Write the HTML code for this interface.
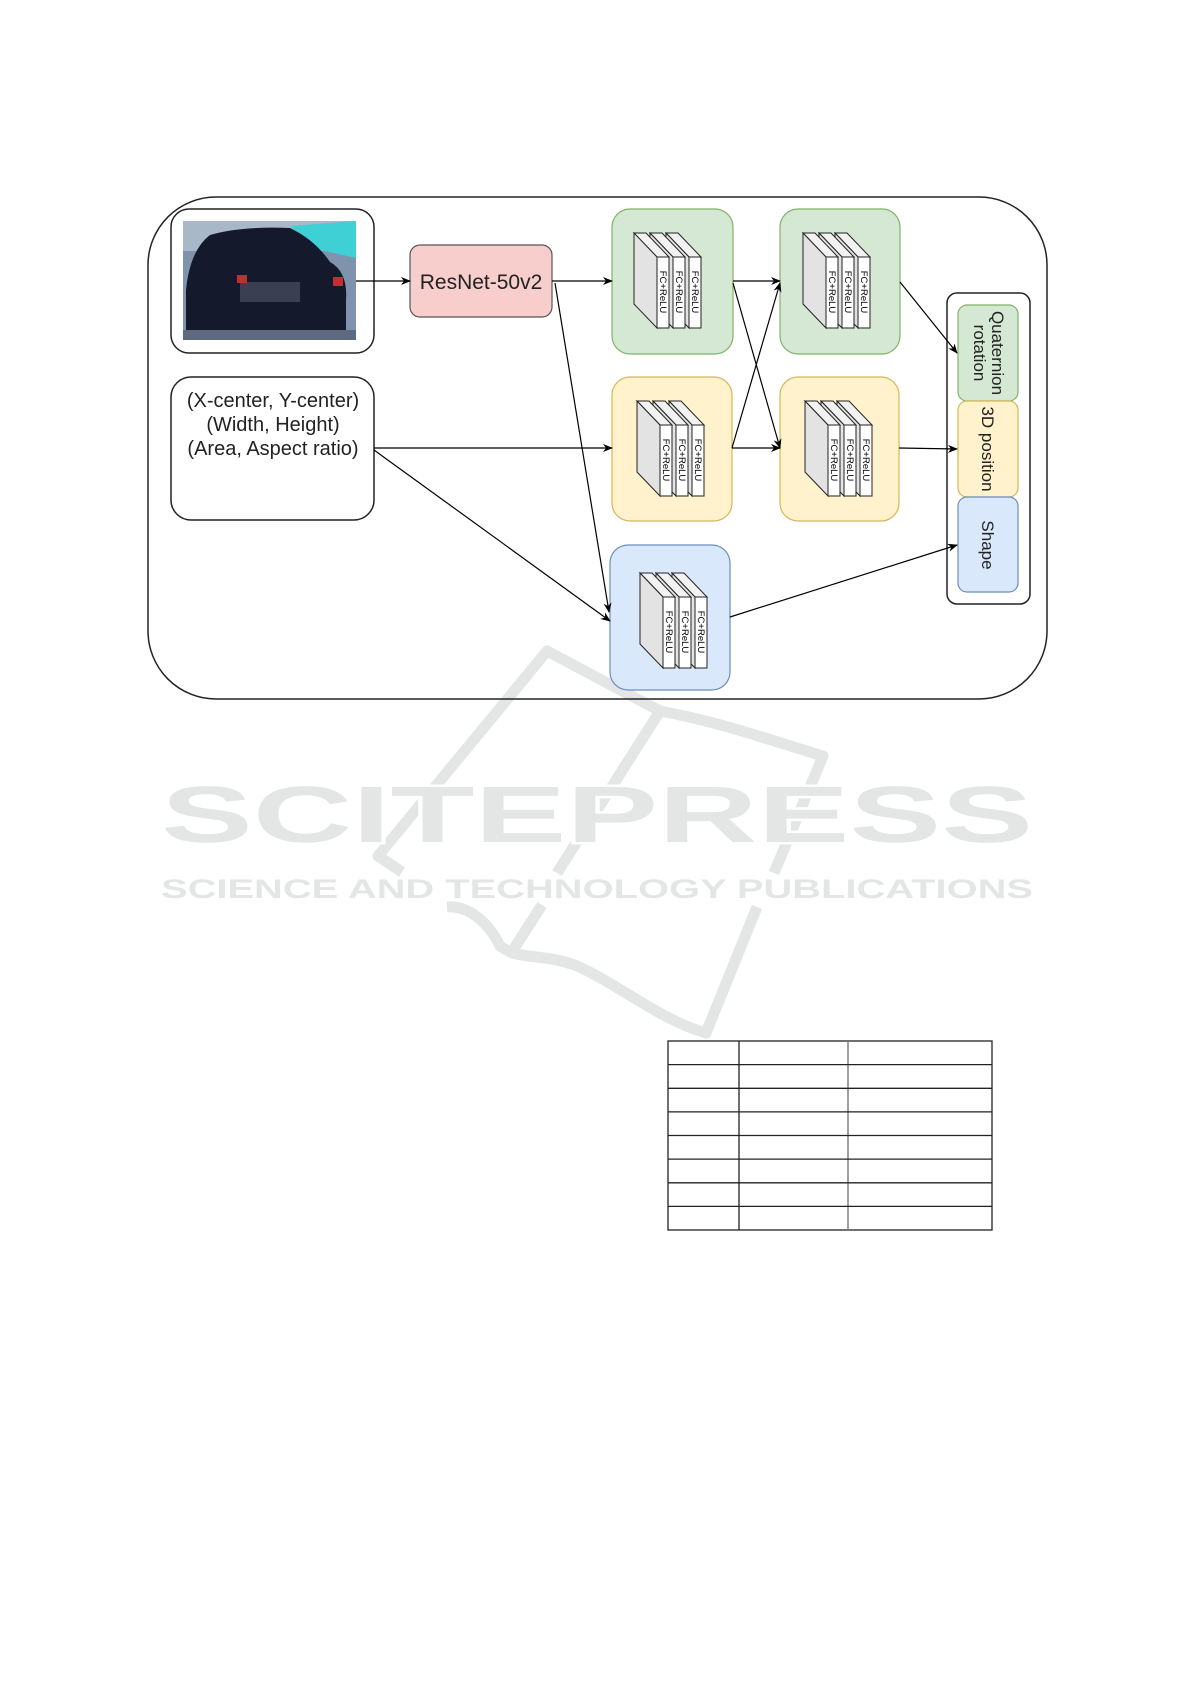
<!DOCTYPE html>
<html><head><meta charset="utf-8"><style>
html,body{margin:0;padding:0;background:#fff;}
svg{display:block;font-family:"Liberation Sans",Arial,sans-serif;}
</style></head><body>
<svg width="1191" height="1684" viewBox="0 0 1191 1684" xmlns="http://www.w3.org/2000/svg">
<defs>
<marker id="ar" markerWidth="10" markerHeight="8" refX="9" refY="4" orient="auto" markerUnits="userSpaceOnUse">
<path d="M0,0 L10,4 L0,8 L3,4 Z" fill="#000"/>
</marker>
<g id="slab">
<polygon points="-23,-24 -11,-24 12,0 0,0" fill="#f2f2f2" stroke="#222" stroke-width="1"/>
<polygon points="-23,-24 0,0 0,71 -23,47" fill="#e3e3e3" stroke="#222" stroke-width="1"/>
<rect x="0" y="0" width="12" height="71" fill="#fff" stroke="#222" stroke-width="1"/>
<text transform="translate(3,35) rotate(90)" font-size="9.5" text-anchor="middle" fill="#000">FC+ReLU</text>
</g>
<g id="stack">
<use href="#slab" x="32" y="0"/>
<use href="#slab" x="16" y="0"/>
<use href="#slab" x="0" y="0"/>
</g>
</defs>

<!-- watermark logo -->
<g fill="none" stroke="#e4e6e6" stroke-width="11" stroke-linejoin="round" stroke-linecap="butt">
<path d="M402,872 L378,856 L547,651 L660,711"/>
<path d="M660,711 C720,722 770,740 823,756 L774,873"/>
<path d="M660,711 L557,873"/>
<path d="M542,905 L513,950"/>
<path d="M757,907 L706,1033 C660,1020 620,985 575,965 C545,955 525,958 510,952 L500,946 C490,925 470,905 447,907"/>
</g>
<g fill="#e4e6e6" stroke="#fff" stroke-width="5" paint-order="stroke">
<text x="161" y="842" font-size="80" font-weight="bold" textLength="872" lengthAdjust="spacingAndGlyphs">SCITEPRESS</text>
<text x="161" y="898" font-size="27" font-weight="bold" textLength="872" lengthAdjust="spacingAndGlyphs">SCIENCE AND TECHNOLOGY PUBLICATIONS</text>
</g>

<!-- outer -->
<rect x="148" y="197" width="899" height="502" rx="68" ry="68" fill="none" stroke="#222" stroke-width="1.5"/>

<!-- image box -->
<rect x="171" y="209" width="203" height="144" rx="18" fill="#fff" stroke="#222" stroke-width="1.5"/>
<rect x="183" y="221" width="173" height="119" fill="#7f93ad"/>
<rect x="183" y="221" width="173" height="30" fill="#a9b8c8"/>
<polygon points="290,226 356,221 356,258 320,250" fill="#3fd0d6"/>
<path d="M186,290 Q190,250 210,235 Q240,226 290,228 Q315,240 330,262 Q348,272 346,300 L346,330 L186,332 Z" fill="#141a2c"/>
<rect x="240" y="282" width="60" height="20" fill="#3a4050"/>
<rect x="237" y="275" width="10" height="8" fill="#c03030"/>
<rect x="333" y="277" width="10" height="9" fill="#c03030"/>
<rect x="183" y="330" width="173" height="10" fill="#5d6a80"/>

<!-- text box -->
<rect x="171" y="377" width="203" height="143" rx="20" fill="#fff" stroke="#222" stroke-width="1.5"/>
<g font-size="20" text-anchor="middle" fill="#222">
<text x="273" y="407">(X-center, Y-center)</text>
<text x="273" y="431">(Width, Height)</text>
<text x="273" y="455">(Area, Aspect ratio)</text>
</g>

<!-- ResNet -->
<rect x="410" y="245" width="142" height="72" rx="10" fill="#f8cecc" stroke="#555" stroke-width="1.2"/>
<text x="481" y="289" font-size="21" text-anchor="middle" fill="#222">ResNet-50v2</text>

<!-- blocks -->
<rect x="612" y="209" width="121" height="145" rx="18" fill="#d5e8d4" stroke="#82b366" stroke-width="1.2"/>
<rect x="780" y="209" width="120" height="145" rx="18" fill="#d5e8d4" stroke="#82b366" stroke-width="1.2"/>
<rect x="612" y="377" width="120" height="144" rx="18" fill="#fff2cc" stroke="#d6b656" stroke-width="1.2"/>
<rect x="780" y="377" width="119" height="144" rx="18" fill="#fff2cc" stroke="#d6b656" stroke-width="1.2"/>
<rect x="610" y="545" width="120" height="145" rx="18" fill="#dae8fc" stroke="#6c8ebf" stroke-width="1.2"/>

<use href="#stack" x="657" y="257"/>
<use href="#stack" x="826" y="257"/>
<use href="#stack" x="660" y="425"/>
<use href="#stack" x="828" y="425"/>
<use href="#stack" x="663" y="597"/>

<!-- output container -->
<rect x="947" y="293" width="83" height="311" rx="10" fill="#fff" stroke="#222" stroke-width="1.5"/>
<rect x="958" y="305" width="60" height="96" rx="9" fill="#d5e8d4" stroke="#82b366" stroke-width="1.2"/>
<rect x="958" y="401" width="60" height="96" rx="9" fill="#fff2cc" stroke="#d6b656" stroke-width="1.2"/>
<rect x="958" y="497" width="60" height="95" rx="9" fill="#dae8fc" stroke="#6c8ebf" stroke-width="1.2"/>
<g font-size="17" text-anchor="middle" fill="#222">
<text transform="translate(988,353) rotate(90)"><tspan x="0" y="-4">Quaternion</tspan><tspan x="0" y="14">rotation</tspan></text>
<text transform="translate(982,449) rotate(90)">3D position</text>
<text transform="translate(982,545) rotate(90)">Shape</text>
</g>

<!-- arrows -->
<g stroke="#000" stroke-width="1.2" fill="none" marker-end="url(#ar)">
<line x1="356" y1="281" x2="410" y2="281"/>
<line x1="552" y1="281" x2="612" y2="281"/>
<line x1="555" y1="283" x2="609" y2="612"/>
<line x1="374" y1="448" x2="612" y2="448"/>
<line x1="374" y1="450" x2="610" y2="621"/>
<line x1="733" y1="281" x2="780" y2="281"/>
<line x1="733" y1="283" x2="780" y2="448"/>
<line x1="732" y1="448" x2="780" y2="283"/>
<line x1="732" y1="448" x2="780" y2="448"/>
<line x1="900" y1="282" x2="957" y2="353"/>
<line x1="899" y1="448" x2="957" y2="449"/>
<line x1="730" y1="617" x2="957" y2="545"/>
</g>

<!-- table -->
<g stroke="#222" stroke-width="1.3">
<rect x="668" y="1041" width="324" height="189" fill="#fff"/>
<line x1="739" y1="1041" x2="739" y2="1230"/>
<line x1="848" y1="1041" x2="848" y2="1230" stroke="#888" stroke-width="1.6"/>
<line x1="668" y1="1064.6" x2="992" y2="1064.6"/>
<line x1="668" y1="1088.3" x2="992" y2="1088.3"/>
<line x1="668" y1="1111.9" x2="992" y2="1111.9"/>
<line x1="668" y1="1135.5" x2="992" y2="1135.5"/>
<line x1="668" y1="1159.1" x2="992" y2="1159.1"/>
<line x1="668" y1="1182.8" x2="992" y2="1182.8"/>
<line x1="668" y1="1206.4" x2="992" y2="1206.4"/>
</g>
</svg>
</body></html>
